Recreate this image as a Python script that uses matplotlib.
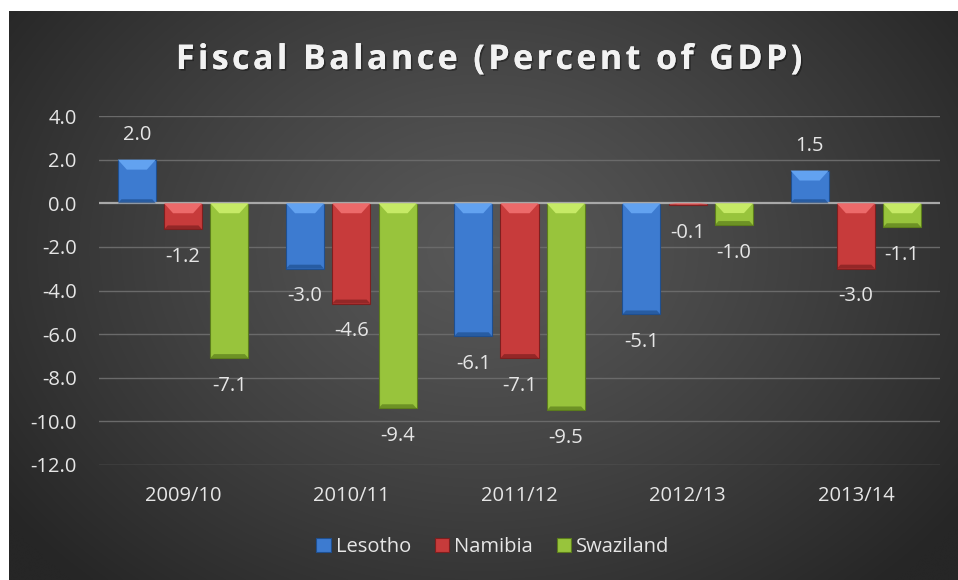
#------------------------------------------------imports---------------------------------------------------------------
import numpy as np
import matplotlib
matplotlib.use("Agg")
import matplotlib.pyplot as plt
from matplotlib.patches import Polygon, Patch
import matplotlib.patheffects as pe

#--------------------------------------------------data----------------------------------------------------------------
years = ["2009/10", "2010/11", "2011/12", "2012/13", "2013/14"]
countries = ["Lesotho", "Namibia", "Swaziland"]
lesotho = [2.0, -3.0, -6.1, -5.1, 1.5]
namibia = [-1.2, -4.6, -7.1, -0.1, -3.0]
swaziland = [-7.1, -9.4, -9.5, -1.0, -1.1]
yticks = [4.0, 2.0, 0.0, -2.0, -4.0, -6.0, -8.0, -10.0, -12.0]
title = "Fiscal Balance (Percent of GDP)"

#-------------------------------------------------styling--------------------------------------------------------------
plt.rcParams['font.family'] = ['Open Sans', 'DejaVu Sans']
TXT = '#e6e6e6'
FS = 14.5
# body, light top bevel, dark bottom/edge
colors = [('#3d7bd0', '#62a2f0', '#1f4f8f'),
          ('#c73b3b', '#ec6a6a', '#7e1f1f'),
          ('#98c43c', '#c6ea66', '#5c7d1c')]

W, H = 958, 580
fig = plt.figure(figsize=(W / 100, H / 100), dpi=100, facecolor='white')

#-----------------------------------------------background-------------------------------------------------------------
bg = fig.add_axes([9 / W, 0, 1 - 9 / W, 1 - 11 / H])
gx, gy = np.meshgrid(np.linspace(0, 1, 400), np.linspace(0, 1, 300))
t = np.sqrt(((gx - 0.5) / 0.62) ** 2 + ((gy - 0.42) / 0.8) ** 2)
t = np.clip(t, 0, 1) ** 1.2
shade = (0x58 + (0x26 - 0x58) * t) / 255.0
img = np.dstack([shade, shade, shade])
bg.imshow(img, aspect='auto', interpolation='bicubic', extent=(0, 1, 0, 1))
bg.set_axis_off()

#--------------------------------------------------axes----------------------------------------------------------------
ax_l, ax_w = 99 / W, 841 / W
ax_b, ax_h = (H - 465) / H, 349 / H
ax = fig.add_axes([ax_l, ax_b, ax_w, ax_h])
ax.patch.set_alpha(0)
ax.set_xlim(-0.5, 4.5)
ax.set_ylim(-12, 4)
for s in ax.spines.values():
    s.set_visible(False)
for y in yticks:
    if y != 0:
        ax.axhline(y, color='#6a6a6a', lw=1.0, zorder=0)

ax.set_yticks(yticks)
ax.set_yticklabels([f"{v:.1f}" for v in yticks], color=TXT, fontsize=FS)
ax.set_xticks(range(len(years)))
ax.set_xticklabels(years, color=TXT, fontsize=FS)
ax.tick_params(axis='y', length=0, pad=16)
ax.tick_params(axis='x', length=0, pad=15)

#--------------------------------------------------bars----------------------------------------------------------------
px_x = ax_w * W / 5.0     # pixels per category
px_y = ax_h * H / 16.0    # pixels per unit
width = 0.226
offsets = [-0.275, 0.0, 0.275]
series = [lesotho, namibia, swaziland]

for vals, off, (body, light, dark) in zip(series, offsets, colors):
    xs = np.arange(len(vals)) + off
    ax.bar(xs, vals, width=width, color=body, edgecolor=dark, linewidth=0.8, zorder=2)
    for xc, v in zip(xs, vals):
        x0, x1 = xc - width / 2, xc + width / 2
        top, bot = max(v, 0), min(v, 0)
        h = top - bot
        by = min(10 / px_y, h * 0.45)
        bx = min(9 / px_x, width * 0.3)
        bb = min(4 / px_y, h * 0.2)
        ax.add_patch(Polygon([(x0, top), (x1, top), (x1 - bx, top - by), (x0 + bx, top - by)],
                             closed=True, color=light, lw=0, zorder=3))
        ax.add_patch(Polygon([(x0, bot), (x1, bot), (x1 - bx * 0.4, bot + bb), (x0 + bx * 0.4, bot + bb)],
                             closed=True, color=dark, alpha=0.7, lw=0, zorder=3))
        # value label
        dy = 18 if v >= 0 else -20
        ax.annotate(f"{v:.1f}", (xc, v), xytext=(0, dy), textcoords='offset points',
                    ha='center', va='center', color=TXT, fontsize=FS, zorder=4)

ax.axhline(0, color='#a8a8a8', lw=1.6, zorder=2.5)

#--------------------------------------------------title---------------------------------------------------------------
# hair spaces between letters give the title its loose tracking
spaced = "\u200a".join(title)
fig.text(488 / W, 1 - 60 / H, spaced, ha='center', va='center',
         color='#f2f2f2', fontsize=24.5, fontweight='bold',
         path_effects=[pe.withSimplePatchShadow(offset=(1.2, -1.2), shadow_rgbFace='black', alpha=0.35),
                       pe.Normal()])

#--------------------------------------------------legend--------------------------------------------------------------
handles = [Patch(facecolor=c[0], edgecolor=c[2], lw=0.8) for c in colors]
leg = fig.legend(handles, countries, loc='center', bbox_to_anchor=(493 / W, 1 - 547 / H), ncol=3,
                 frameon=False, fontsize=FS, handlelength=0.7, handleheight=0.7,
                 handletextpad=0.25, columnspacing=1.2)
for txt in leg.get_texts():
    txt.set_color(TXT)

#---------------------------------------------------saving-------------------------------------------------------------
fig.savefig('out.png', dpi=100, facecolor='white')
